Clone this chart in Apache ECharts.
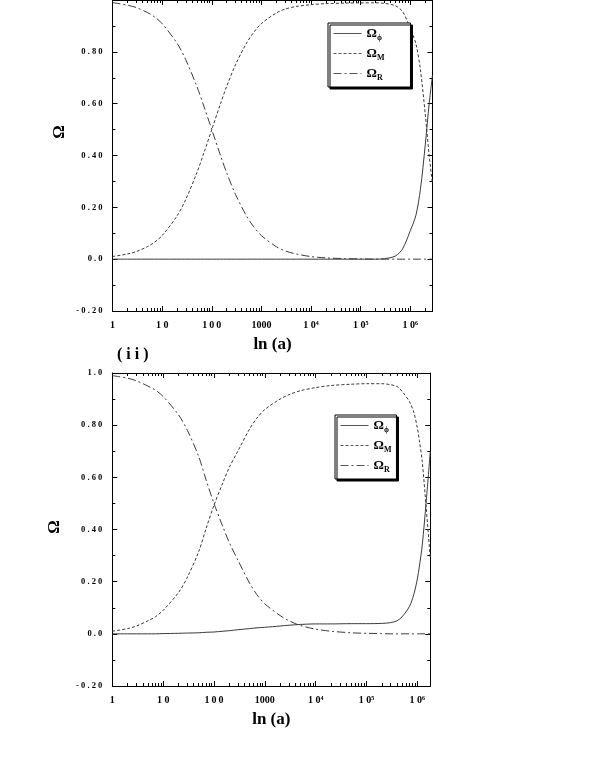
<!DOCTYPE html>
<html>
<head>
<meta charset="utf-8">
<script src="https://cdn.jsdelivr.net/npm/echarts@6/dist/echarts.min.js"></script>
<style>
  html, body { margin: 0; padding: 0; background: #fff; }
  #chart { width: 595px; height: 761px; }
</style>
</head>
<body>
<div id="chart"></div>
<script>
// panel (i): scale factor a and density parameters
const aTop = [1, 2, 3, 5, 7, 10, 20, 30, 50, 70, 100, 150, 200, 300, 500, 700, 1000, 2000, 3000, 5000,
  1e4, 2e4, 5e4, 1e5, 2e5, 3e5, 5e5, 7e5, 1e6, 1.3e6, 1.6e6, 2e6, 2.4e6, 2.8e6];
const phiTop = [0, 0, 0, 0, 0, 0, 0, 0, 0, 0, 0, 0, 0, 0, 0, 0, 0, 0, 0, 0,
  0, 0, 0, 0, 0, 0.002, 0.012, 0.04, 0.11, 0.17, 0.27, 0.44, 0.6, 0.71];
const mTop = [0.01, 0.02, 0.029, 0.048, 0.065, 0.091, 0.167, 0.231, 0.333, 0.412, 0.5, 0.6, 0.667, 0.75, 0.833, 0.875, 0.909, 0.95, 0.965, 0.975,
  0.982, 0.986, 0.988, 0.989, 0.989, 0.987, 0.978, 0.955, 0.89, 0.83, 0.73, 0.56, 0.4, 0.29];
const rTop = [0.99, 0.98, 0.971, 0.952, 0.935, 0.909, 0.833, 0.769, 0.667, 0.588, 0.5, 0.4, 0.333, 0.25, 0.167, 0.125, 0.091, 0.048, 0.032, 0.02,
  0.01, 0.005, 0.002, 0.001, 0, 0, 0, 0, 0, 0, 0, 0, 0, 0];

// panel (ii)
const aBot = [1, 2, 3, 5, 7, 10, 20, 30, 50, 70, 100, 150, 200, 300, 500, 700, 1000, 2000, 3000, 5000,
  1e4, 2e4, 5e4, 1e5, 2e5, 3e5, 4e5, 5e5, 7e5, 8.5e5, 1e6, 1.1e6, 1.25e6, 1.5e6, 1.8e6];
const phiBot = [0, 0, 0, 0, 0, 0.001, 0.002, 0.003, 0.004, 0.006, 0.007, 0.01, 0.012, 0.016, 0.02, 0.023, 0.025, 0.03, 0.033, 0.036,
  0.038, 0.038, 0.039, 0.039, 0.04, 0.043, 0.05, 0.065, 0.105, 0.15, 0.21, 0.26, 0.34, 0.51, 0.7];
const mBot = [0.01, 0.02, 0.03, 0.05, 0.065, 0.09, 0.158, 0.217, 0.315, 0.404, 0.493, 0.58, 0.638, 0.703, 0.785, 0.827, 0.86, 0.9, 0.917, 0.932,
  0.944, 0.952, 0.957, 0.959, 0.959, 0.955, 0.948, 0.93, 0.89, 0.85, 0.79, 0.74, 0.66, 0.48, 0.29];
const rBot = [0.99, 0.98, 0.97, 0.95, 0.935, 0.91, 0.84, 0.78, 0.68, 0.59, 0.5, 0.41, 0.35, 0.28, 0.195, 0.15, 0.115, 0.07, 0.05, 0.032,
  0.018, 0.01, 0.004, 0.002, 0.001, 0, 0, 0, 0, 0, 0, 0, 0, 0, 0];

const maxA = [2.8e6, 1.8e6];

// tick labels (the top panel's "1.0" is cut off in the original)
const xTickLabels = ['1', '1 0', '1\u20090\u20090', '1000', '1 0\u2074', '1 0\u2075', '1 0\u2076'];
const yTickValues = [-0.2, 0, 0.2, 0.4, 0.6, 0.8, 1.0];
const yTickLabelsTop = ['- 0 . 2 0', '0 . 0', '0 . 2 0', '0 . 4 0', '0 . 6 0', '0 . 8 0', ''];
const yTickLabelsBot = ['- 0 . 2 0', '0 . 0', '0 . 2 0', '0 . 4 0', '0 . 6 0', '0 . 8 0', '1 . 0'];
const seriesNames = ['\u03A9\u03D5', '\u03A9M', '\u03A9R'];

const FONT = "'Liberation Serif', 'Times New Roman', serif";
const INK = '#000';
const LINE = '#3a3a3a';

const grids = [
  { left: 112.5, top: -4, width: 320, height: 315 },
  { left: 112.3, top: 373, width: 318, height: 313 }
];
const yLabelSets = [yTickLabelsTop, yTickLabelsBot];

function minorLog(max) {
  const out = [];
  for (let n = 0; n <= 6; n++) {
    for (let k = 2; k <= 9; k++) {
      const v = k * Math.pow(10, n);
      if (v < max) out.push(Math.log10(v));
    }
  }
  return out;
}

const xAxes = [];
const yAxes = [];
grids.forEach((g, gi) => {
  const lmax = Math.log10(maxA[gi]);
  const major = [0, 1, 2, 3, 4, 5, 6];
  const minor = minorLog(maxA[gi]);
  // data axis (log), hidden
  xAxes.push({ type: 'log', logBase: 10, gridIndex: gi, min: 1, max: maxA[gi], show: false });
  ['bottom', 'top'].forEach(pos => {
    xAxes.push({
      type: 'value', gridIndex: gi, position: pos, min: 0, max: lmax,
      axisLine: { show: true, onZero: false, lineStyle: { color: INK, width: 1 } },
      axisTick: { show: true, inside: true, length: 5, customValues: major, lineStyle: { color: INK, width: 1 } },
      axisLabel: {
        show: pos === 'bottom', customValues: major, margin: 9,
        formatter: v => xTickLabels[Math.round(v)],
        fontFamily: FONT, fontWeight: 'bold', fontSize: 10, color: INK
      },
      splitLine: { show: false },
      name: pos === 'bottom' ? 'ln (a)' : '',
      nameLocation: 'middle', nameGap: 25,
      nameTextStyle: { fontFamily: FONT, fontWeight: 'bold', fontSize: 17, color: INK }
    });
    xAxes.push({
      type: 'value', gridIndex: gi, position: pos, min: 0, max: lmax,
      axisLine: { show: false, onZero: false },
      axisTick: { show: true, inside: true, length: 3, customValues: minor, lineStyle: { color: INK, width: 1 } },
      axisLabel: { show: false },
      splitLine: { show: false }
    });
  });
  ['left', 'right'].forEach(pos => {
    yAxes.push({
      type: 'value', gridIndex: gi, position: pos, min: -0.2, max: 1.0, interval: 0.2,
      axisLine: { show: true, onZero: false, lineStyle: { color: INK, width: 1 } },
      axisTick: { show: true, inside: true, length: 5, lineStyle: { color: INK, width: 1 } },
      minorTick: { show: true, splitNumber: 2, length: 3, lineStyle: { color: INK, width: 1 } },
      axisLabel: {
        show: pos === 'left', margin: 10,
        formatter: v => {
          const i = yTickValues.findIndex(t => Math.abs(t - v) < 1e-6);
          return i >= 0 ? yLabelSets[gi][i] : '';
        },
        fontFamily: FONT, fontWeight: 'bold', fontSize: 8.5, color: INK
      },
      splitLine: { show: false },
      minorSplitLine: { show: false }
    });
  });
});

const dashes = ['solid', [3, 2], [8, 3, 2, 3]];
const panelData = [
  { a: aTop, vals: [phiTop, mTop, rTop] },
  { a: aBot, vals: [phiBot, mBot, rBot] }
];
const series = [];
panelData.forEach((p, gi) => {
  p.vals.forEach((vals, si) => {
    series.push({
      name: seriesNames[si], type: 'line',
      xAxisIndex: gi * 5, yAxisIndex: gi * 2,
      data: p.a.map((x, i) => [x, vals[i]]),
      symbol: 'none', showSymbol: false, smooth: 0.3,
      itemStyle: { color: LINE },
      lineStyle: { color: LINE, width: 1, type: dashes[si] },
      silent: true
    });
  });
});

function legendFor(left, top, padRight) {
  return {
    data: seriesNames, orient: 'vertical', left: left, top: top,
    itemWidth: 28, itemHeight: 12, itemGap: 5,
    padding: [4, padRight, 5, 5],
    backgroundColor: '#fff', borderColor: INK, borderWidth: 1,
    shadowColor: '#000', shadowBlur: 0, shadowOffsetX: 2, shadowOffsetY: 2,
    selectedMode: false,
    itemStyle: { opacity: 0 },
    lineStyle: { width: 1, color: '#555' },
    formatter: n => '{o|\u03A9}{s|' + n.slice(1) + '}',
    textStyle: {
      color: INK, fontFamily: FONT, fontWeight: 'bold',
      rich: {
        o: { fontSize: 13, fontFamily: FONT, fontWeight: 'bold', color: INK },
        s: { fontSize: 8, fontFamily: FONT, fontWeight: 'bold', color: INK, padding: [9, 0, 0, 0] }
      }
    }
  };
}

const chart = echarts.init(document.getElementById('chart'));
chart.setOption({
  animation: false,
  backgroundColor: '#fff',
  grid: grids,
  xAxis: xAxes,
  yAxis: yAxes,
  legend: [legendFor(328, 23, 26), legendFor(335, 415, 5)],
  graphic: [
    { type: 'text', x: 60, y: 132, rotation: Math.PI / 2,
      style: { text: '\u03A9', font: 'bold 17px ' + FONT, fill: INK, align: 'center', verticalAlign: 'middle' } },
    { type: 'text', x: 55, y: 527, rotation: Math.PI / 2,
      style: { text: '\u03A9', font: 'bold 17px ' + FONT, fill: INK, align: 'center', verticalAlign: 'middle' } },
    { type: 'text', x: 117, y: 355,
      style: { text: '( i i )', font: 'bold 16px ' + FONT, fill: INK, align: 'left', verticalAlign: 'middle' } }
  ],
  series: series
});
</script>
</body>
</html>
